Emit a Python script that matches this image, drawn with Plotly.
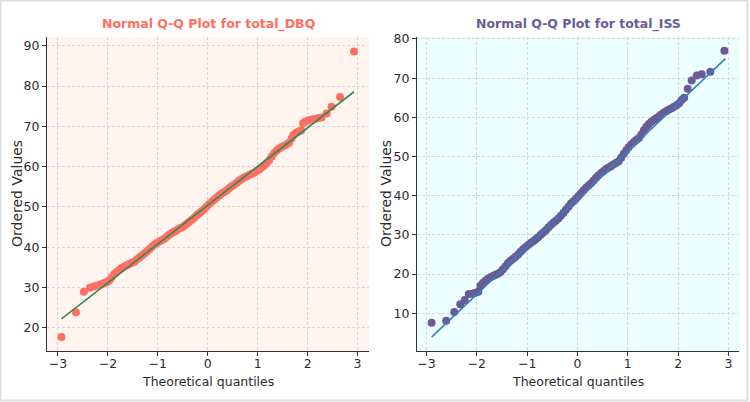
import plotly.graph_objects as go

# ---- data ----
dbq_theoretical = [-2.93, -2.64, -2.48, -2.36, -2.28, -2.21, -2.14, -2.08, -2.02, -1.97,
                   -1.92, -1.87, -1.82, -1.77, -1.72, -1.67, -1.62, -1.57, -1.52, -1.47,
                   -1.42, -1.37, -1.32, -1.27, -1.22, -1.17, -1.12, -1.07, -1.02, -0.97,
                   -0.92, -0.87, -0.82, -0.77, -0.72, -0.67, -0.62, -0.57, -0.52, -0.47,
                   -0.42, -0.37, -0.32, -0.27, -0.22, -0.17, -0.12, -0.07, -0.02, 0.03,
                   0.08, 0.13, 0.18, 0.23, 0.28, 0.33, 0.38, 0.43, 0.48, 0.53,
                   0.58, 0.63, 0.68, 0.73, 0.78, 0.83, 0.88, 0.93, 0.98, 1.03,
                   1.08, 1.13, 1.18, 1.23, 1.28, 1.33, 1.38, 1.43, 1.48, 1.53,
                   1.58, 1.63, 1.68, 1.72, 1.77, 1.82, 1.87, 1.91, 1.96, 2.02,
                   2.08, 2.14, 2.20, 2.28, 2.38, 2.48, 2.65, 2.93]
dbq_ordered = [17.7, 23.8, 28.9, 29.9, 30.2, 30.5, 30.8, 31.0, 31.3, 31.8,
               32.6, 33.3, 33.9, 34.4, 34.8, 35.2, 35.5, 35.8, 36.1, 36.4,
               36.9, 37.4, 37.9, 38.4, 38.9, 39.5, 40.1, 40.6, 41.0, 41.4,
               41.7, 42.1, 42.6, 43.1, 43.5, 43.9, 44.2, 44.6, 44.9, 45.3,
               45.8, 46.3, 46.8, 47.3, 47.9, 48.4, 48.9, 49.5, 50.1, 50.7,
               51.3, 51.8, 52.3, 52.8, 53.3, 53.7, 54.1, 54.6, 55.1, 55.5,
               56.0, 56.5, 56.9, 57.3, 57.6, 57.9, 58.2, 58.5, 58.9, 59.3,
               59.8, 60.3, 60.9, 61.6, 62.5, 63.3, 64.0, 64.5, 64.9, 65.2,
               65.5, 65.9, 67.0, 67.9, 68.4, 68.7, 69.0, 70.8, 71.2, 71.5,
               71.7, 71.8, 72.0, 72.2, 73.2, 74.9, 77.3, 88.6]
dbq_fit_x = [-2.93, 2.93]
dbq_fit_y = [22.2, 78.6]

iss_theoretical = [-2.90, -2.61, -2.45, -2.33, -2.24, -2.16, -2.09, -2.03, -1.97, -1.93,
                   -1.88, -1.83, -1.78, -1.73, -1.68, -1.63, -1.58, -1.53, -1.48, -1.43,
                   -1.38, -1.33, -1.28, -1.23, -1.18, -1.13, -1.08, -1.03, -0.98, -0.93,
                   -0.88, -0.83, -0.78, -0.73, -0.68, -0.63, -0.58, -0.53, -0.48, -0.43,
                   -0.38, -0.33, -0.28, -0.23, -0.18, -0.13, -0.08, -0.03, 0.02, 0.07,
                   0.12, 0.17, 0.22, 0.27, 0.32, 0.37, 0.42, 0.47, 0.52, 0.57,
                   0.62, 0.67, 0.72, 0.77, 0.82, 0.87, 0.92, 0.97, 1.02, 1.07,
                   1.12, 1.17, 1.22, 1.27, 1.32, 1.37, 1.42, 1.47, 1.52, 1.57,
                   1.62, 1.67, 1.72, 1.77, 1.82, 1.87, 1.92, 1.97, 2.02, 2.07,
                   2.12, 2.19, 2.27, 2.37, 2.47, 2.64, 2.92]
iss_ordered = [7.6, 8.1, 10.3, 12.3, 13.4, 14.9, 15.0, 15.2, 15.5, 17.0,
               17.7, 18.3, 18.8, 19.2, 19.5, 19.8, 20.1, 20.5, 21.2, 22.0,
               22.8, 23.4, 23.9, 24.4, 25.0, 25.7, 26.3, 26.9, 27.4, 27.9,
               28.4, 28.9, 29.4, 30.0, 30.6, 31.2, 31.9, 32.5, 33.1, 33.6,
               34.2, 34.9, 35.6, 36.4, 37.2, 38.0, 38.6, 39.2, 39.9, 40.6,
               41.3, 42.0, 42.6, 43.2, 43.9, 44.6, 45.2, 45.8, 46.3, 46.8,
               47.2, 47.6, 48.0, 48.4, 48.8, 49.7, 50.7, 51.6, 52.4, 53.1,
               53.7, 54.2, 54.7, 55.6, 56.7, 57.6, 58.3, 58.9, 59.4, 59.8,
               60.3, 60.8, 61.2, 61.6, 62.0, 62.3, 62.7, 63.1, 63.6, 64.4,
               65.0, 67.3, 69.4, 70.7, 71.0, 71.6, 77.0]
iss_fit_x = [-2.90, 2.94]
iss_fit_y = [3.9, 75.0]

x_ticks = [-3, -2, -1, 0, 1, 2, 3]
dbq_y_ticks = [20, 30, 40, 50, 60, 70, 80, 90]
iss_y_ticks = [10, 20, 30, 40, 50, 60, 70, 80]

# ---- styling ----
FONT = "DejaVu Sans"
DBQ_COLOR = "#FF6F61"
ISS_COLOR = "#6B5B95"
W, H = 750, 402
ML, MR, MT, MB = 47, 11, 37, 51
PW, PH = W - ML - MR, H - MT - MB

fig = go.Figure()
fig.add_trace(go.Scatter(x=dbq_theoretical, y=dbq_ordered, mode="markers",
                         marker=dict(color=DBQ_COLOR, size=8, line=dict(width=0)),
                         xaxis="x", yaxis="y", showlegend=False))
fig.add_trace(go.Scatter(x=dbq_fit_x, y=dbq_fit_y, mode="lines",
                         line=dict(color="#2E8B57", width=1.6),
                         xaxis="x", yaxis="y", showlegend=False))
fig.add_trace(go.Scatter(x=iss_theoretical, y=iss_ordered, mode="markers",
                         marker=dict(color=ISS_COLOR, size=8, line=dict(width=0)),
                         xaxis="x2", yaxis="y2", showlegend=False))
fig.add_trace(go.Scatter(x=iss_fit_x, y=iss_fit_y, mode="lines",
                         line=dict(color="#3182BD", width=1.6),
                         xaxis="x2", yaxis="y2", showlegend=False))

def ax(domain, rng, ticks, anchor, standoff=0):
    return dict(domain=domain, range=rng, tickvals=ticks,
                ticktext=[str(t).replace("-", "\u2212") for t in ticks],
                anchor=anchor, showline=True, linecolor="#333333", linewidth=1.3,
                ticks="outside", ticklen=4, tickwidth=1.2, tickcolor="#333333",
                ticklabelstandoff=standoff,
                showgrid=True, gridcolor="#d6d6d6", griddash="3px,2px", gridwidth=0.8,
                zeroline=False, tickfont=dict(family=FONT, size=12.5, color="#2b2b2b"))

left_end = (369 - ML) / PW
right_start = (417 - ML) / PW

fig.update_layout(
    width=W, height=H,
    margin=dict(l=ML, r=MR, t=MT, b=MB),
    paper_bgcolor="white",
    xaxis=ax([0, left_end], [-3.22, 3.23], x_ticks, "y", -3),
    yaxis=ax([0, 1], [14.2, 92.2], dbq_y_ticks, "x"),
    xaxis2=ax([right_start, 1], [-3.19, 3.21], x_ticks, "y2", -3),
    yaxis2=ax([0, 1], [0.36, 80.5], iss_y_ticks, "x2"),
    font=dict(family=FONT),
)

# plot backgrounds
fig.add_shape(type="rect", xref="x domain", yref="y domain", x0=0, x1=1, y0=0, y1=1,
              fillcolor="#FFF5EE", line=dict(width=0), layer="below")
fig.add_shape(type="rect", xref="x2 domain", yref="y2 domain", x0=0, x1=1, y0=0, y1=1,
              fillcolor="#ECFEFE", line=dict(width=0), layer="below")

# outer frame
fig.add_shape(type="rect", xref="paper", yref="paper",
              x0=(0.5 - ML) / PW, x1=(W - 2.5 - ML) / PW,
              y0=(-MB + 1.5) / PH, y1=(PH + MT - 0.5) / PH,
              line=dict(color="#dedede", width=2), fillcolor="rgba(0,0,0,0)")

title_y = 1 + (MT - 24) / PH
fig.add_annotation(text="<b>Normal Q-Q Plot for total_DBQ</b>", xref="paper", yref="paper",
                   x=left_end / 2, y=title_y, showarrow=False, xanchor="center", yanchor="middle",
                   font=dict(family=FONT, size=12.5, color=DBQ_COLOR))
fig.add_annotation(text="<b>Normal Q-Q Plot for total_ISS</b>", xref="paper", yref="paper",
                   x=(right_start + 1) / 2, y=title_y, showarrow=False, xanchor="center", yanchor="middle",
                   font=dict(family=FONT, size=12.5, color=ISS_COLOR))

xl_y = -(381.7 - (MT + PH)) / PH
for xc in [left_end / 2, (right_start + 1) / 2]:
    fig.add_annotation(text="Theoretical quantiles", xref="paper", yref="paper",
                       x=xc, y=xl_y, showarrow=False, xanchor="center", yanchor="middle",
                       font=dict(family=FONT, size=12.5, color="#2b2b2b"))
for xp in [(17 - ML) / PW, (386 - ML) / PW]:
    fig.add_annotation(text="Ordered Values", xref="paper", yref="paper",
                       x=xp, y=1 - (194 - MT) / PH, showarrow=False, textangle=-90,
                       xanchor="center", yanchor="middle",
                       font=dict(family=FONT, size=14, color="#2b2b2b"))

fig.write_html("out.html")
